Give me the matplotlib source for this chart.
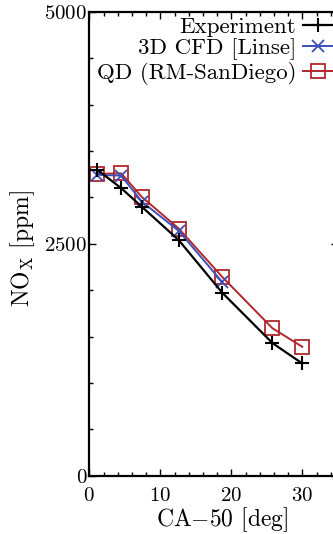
import matplotlib
matplotlib.use("Agg")
import matplotlib.pyplot as plt
from matplotlib.ticker import MultipleLocator

plt.rcParams["font.family"] = "serif"
plt.rcParams["font.serif"] = ["cmr10"]
plt.rcParams["mathtext.fontset"] = "cm"
plt.rcParams["axes.formatter.use_mathtext"] = True

# CA50 sweep [deg] and NOx [ppm]
ca50 = [1.1, 4.5, 7.4, 12.6, 18.7, 25.8, 30.0]
nox_exp = [3300, 3100, 2900, 2540, 1975, 1430, 1210]
ca50_cfd = [1.1, 4.5, 7.4, 12.6, 18.7]
nox_cfd = [3245, 3235, 2955, 2640, 2090]
nox_qd = [3255, 3260, 3005, 2665, 2145, 1590, 1390]

W, H = 333, 534
fig = plt.figure(figsize=(W / 100, H / 100), dpi=100)
ax = fig.add_axes([89.3 / W, (H - 475.7) / H, (337.8 - 89.3) / W, (475.7 - 12) / H])

red = "#b0282c"
blue = "#3d4fb8"
ax.plot(ca50, nox_qd, color=red, lw=1.4, marker="s", ms=10, mfc="none",
        mec=red, mew=1.3, label="QD (RM-SanDiego)")
ax.plot(ca50_cfd, nox_cfd, color=blue, lw=1.4, marker="x", ms=8, mew=1.3,
        label="3D CFD [Linse]")
ax.plot(ca50, nox_exp, color="black", lw=1.6, marker="+", ms=10, mew=1.5,
        label="Experiment")

ax.set_xlim(0, 35)
ax.set_ylim(0, 5000)
ax.xaxis.set_major_locator(MultipleLocator(10))
ax.xaxis.set_minor_locator(MultipleLocator(2))
ax.yaxis.set_major_locator(MultipleLocator(2500))
ax.yaxis.set_minor_locator(MultipleLocator(500))
ax.tick_params(which="both", direction="in", top=True, right=True, width=1.0)
ax.tick_params(which="major", length=5)
ax.tick_params(which="minor", length=3)
ax.tick_params(axis="x", pad=8, labelsize=15)
ax.tick_params(axis="y", pad=1.5, labelsize=15)
for s in ax.spines.values():
    s.set_linewidth(1.6)

ax.set_xlabel(r"CA$-$50 [deg]", fontsize=17)
ax.set_ylabel(r"NO$_\mathrm{X}$ [ppm]", fontsize=17)
ax.xaxis.set_label_coords((221.7 - 89.3) / (337.8 - 89.3), -0.064)
ax.yaxis.set_label_coords(-0.212, 0.49)

h, l = ax.get_legend_handles_labels()
ax.legend(h[::-1], l[::-1], loc="upper right", bbox_to_anchor=(335 / W, 1 - 15 / H),
          bbox_transform=fig.transFigure, frameon=False, markerfirst=False,
          fontsize=16.5, handlelength=1.3, handletextpad=0.3, labelspacing=0.05,
          borderpad=0.1, borderaxespad=0)

fig.savefig("out.png", dpi=100)
